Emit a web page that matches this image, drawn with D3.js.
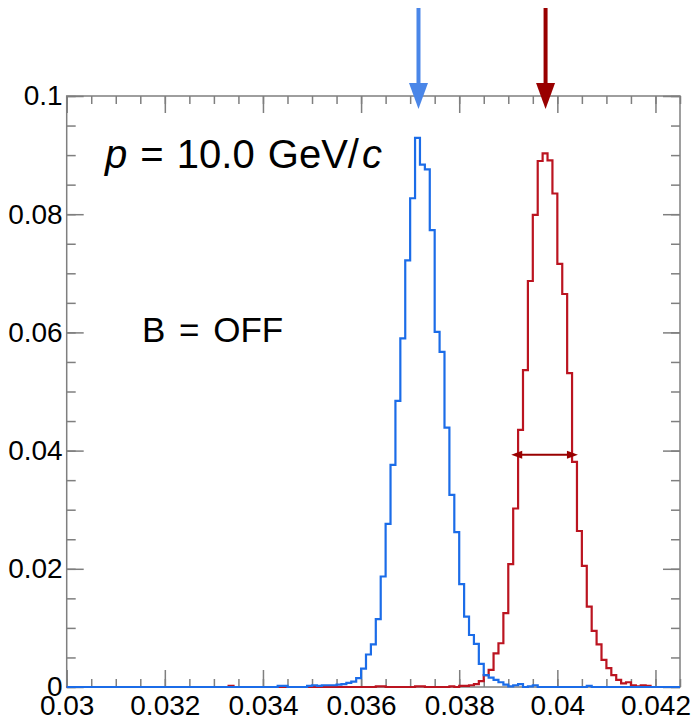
<!DOCTYPE html>
<html>
<head>
<meta charset="utf-8">
<script src="https://cdn.jsdelivr.net/npm/d3@7"></script>
<style>
  body { margin: 0; background: #fff; }
  svg { display: block; font-family: "Liberation Sans", Arial, sans-serif; }
</style>
</head>
<body>
<script>
// histogram binning (x axis)
var binLow = 0.03, binWidth = 0.0001, nBins = 125;

// blue histogram: first bin low edge and bin contents
var blueStart = 0.0343;
var blueCounts = [
  0.0002, 0.0002, 0, 0, 0, 0, 0.0002, 0.0003, 0.0002, 0.0003,
  0.0003, 0.0003, 0.0004, 0.0005, 0.0007, 0.0009, 0.0015, 0.0031, 0.0055, 0.0072,
  0.0115, 0.0187, 0.0276, 0.0376, 0.0484, 0.0590, 0.0722, 0.0827, 0.0929, 0.0884,
  0.0876, 0.0773, 0.0601, 0.0567, 0.0439, 0.0325, 0.0262, 0.0174, 0.0119, 0.0088,
  0.0073, 0.0039, 0.0020, 0.0016, 0.0012, 0.0008, 0.0004, 0.0001, 0.0003, 0.0005,
  0, 0.0001, 0.0003, 0, 0, 0, 0, 0, 0, 0,
  0, 0, 0, 0.0002
];

// red histogram
var redStart = 0.0380;
var redCounts = [
  0.0002, 0.0002, 0.0003, 0.0005, 0.0010, 0.0020, 0.0029, 0.0057, 0.0074, 0.0125,
  0.0208, 0.0302, 0.0435, 0.0536, 0.0687, 0.0799, 0.0890, 0.0903, 0.0891, 0.0835,
  0.0716, 0.0665, 0.0531, 0.0381, 0.0264, 0.0205, 0.0136, 0.0095, 0.0072, 0.0046,
  0.0032, 0.0020, 0.0012, 0.0006, 0.0008, 0.0003, 0.0001, 0.0003, 0.0002
];
// a few isolated red entries far left
var redStray = [[0.0333, 0.0002], [0.0363, 0.0001], [0.0364, 0.0001], [0.0371, 0.0001], [0.0372, 0.0001], [0.0378, 0.0001]];

// mean arrows and FWHM marker
var blueMean = 0.03717, redMean = 0.03976;
var fwhm = [0.03906, 0.04042], fwhmLevel = 0.0393;

// axes
var xTicks = [0.03, 0.032, 0.034, 0.036, 0.038, 0.04, 0.042];
var xTickLabels = ["0.03", "0.032", "0.034", "0.036", "0.038", "0.04", "0.042"];
var yTicks = [0, 0.02, 0.04, 0.06, 0.08, 0.1];
var yTickLabels = ["0", "0.02", "0.04", "0.06", "0.08", "0.1"];

var width = 693, height = 718;
var plotLeft = 66.7, plotRight = 680, plotTop = 96, plotBottom = 687;

var x = d3.scaleLinear().domain([0.03, 0.0425]).range([plotLeft, plotRight]);
var y = d3.scaleLinear().domain([0, 0.1]).range([plotBottom, plotTop]);

var svg = d3.select("body").append("svg")
    .attr("width", width)
    .attr("height", height);

var gray = "#7f7f7f";

// minor tick positions
var xMinor = d3.range(0, 26).map(function(i) { return 0.03 + i * 0.0005; }).filter(function(v) { return v < 0.0425; });
var yMinor = d3.range(0, 21).map(function(i) { return i * 0.005; });

function styleAxis(g) {
    g.select(".domain").remove();
    g.attr("font-size", null).attr("font-family", null);
    g.selectAll("line").attr("stroke", gray).attr("stroke-width", 1.5);
    g.selectAll("text").attr("fill", "#000")
        .style("font-size", "28px")
        .style("font-family", "'Liberation Sans', Arial, sans-serif");
}

// bottom
svg.append("g").attr("transform", "translate(0," + plotBottom + ")")
    .call(d3.axisBottom(x).tickValues(xMinor).tickSize(-8).tickFormat(""))
    .call(styleAxis);
svg.append("g").attr("transform", "translate(0," + plotBottom + ")")
    .call(d3.axisBottom(x).tickValues(xTicks).tickSize(-17).tickPadding(8)
        .tickFormat(function(d, i) { return xTickLabels[i]; }))
    .call(styleAxis);
// top
svg.append("g").attr("transform", "translate(0," + plotTop + ")")
    .call(d3.axisTop(x).tickValues(xMinor).tickSize(-8).tickFormat(""))
    .call(styleAxis);
svg.append("g").attr("transform", "translate(0," + plotTop + ")")
    .call(d3.axisTop(x).tickValues(xTicks).tickSize(-17).tickFormat(""))
    .call(styleAxis);
// left
svg.append("g").attr("transform", "translate(" + plotLeft + ",0)")
    .call(d3.axisLeft(y).tickValues(yMinor).tickSize(-9).tickFormat(""))
    .call(styleAxis);
svg.append("g").attr("transform", "translate(" + plotLeft + ",0)")
    .call(d3.axisLeft(y).tickValues(yTicks).tickSize(-17).tickPadding(4)
        .tickFormat(function(d, i) { return yTickLabels[i]; }))
    .call(styleAxis);
// right
svg.append("g").attr("transform", "translate(" + plotRight + ",0)")
    .call(d3.axisRight(y).tickValues(yMinor).tickSize(-9).tickFormat(""))
    .call(styleAxis);
svg.append("g").attr("transform", "translate(" + plotRight + ",0)")
    .call(d3.axisRight(y).tickValues(yTicks).tickSize(-17).tickFormat(""))
    .call(styleAxis);

// frame
svg.append("rect")
    .attr("x", plotLeft).attr("y", plotTop)
    .attr("width", plotRight - plotLeft).attr("height", plotBottom - plotTop)
    .attr("fill", "none").attr("stroke", gray).attr("stroke-width", 1.5);

// fill a full-length bin array
function fullBins(start, counts, stray) {
    var vals = new Array(nBins).fill(0);
    var i0 = Math.round((start - binLow) / binWidth);
    counts.forEach(function(c, i) { if (i0 + i < nBins) vals[i0 + i] = c; });
    (stray || []).forEach(function(s) { vals[Math.round((s[0] - binLow) / binWidth)] = s[1]; });
    var pts = vals.map(function(v, i) { return [binLow + i * binWidth, v]; });
    pts.push([x.domain()[1], vals[nBins - 1]]);
    return pts;
}

var step = d3.line()
    .x(function(d) { return x(d[0]); })
    .y(function(d) { return y(d[1]); })
    .curve(d3.curveStepAfter);

svg.append("path")
    .attr("d", step(fullBins(redStart, redCounts, redStray)))
    .attr("fill", "none").attr("stroke", "#bb1420").attr("stroke-width", 2.2);

svg.append("path")
    .attr("d", step(fullBins(blueStart, blueCounts)))
    .attr("fill", "none").attr("stroke", "#1b6ce8").attr("stroke-width", 2.2);

// mean arrows above the frame
function downArrow(xv, color) {
    var cx = x(xv);
    svg.append("rect").attr("x", cx - 2).attr("y", 8).attr("width", 4).attr("height", 77).attr("fill", color);
    svg.append("path")
        .attr("d", "M" + (cx - 9.5) + ",83L" + (cx + 9.5) + ",83L" + cx + ",109Z")
        .attr("fill", color);
}
downArrow(blueMean, "#4a86e8");
downArrow(redMean, "#990000");

// FWHM double arrow
var fy = y(fwhmLevel), fx0 = x(fwhm[0]), fx1 = x(fwhm[1]);
svg.append("line")
    .attr("x1", fx0 + 4).attr("x2", fx1 - 4).attr("y1", fy).attr("y2", fy)
    .attr("stroke", "#990000").attr("stroke-width", 2);
svg.append("path")
    .attr("d", "M" + fx0 + "," + fy + "L" + (fx0 + 11) + "," + (fy - 4) + "L" + (fx0 + 11) + "," + (fy + 4) + "Z" +
               "M" + fx1 + "," + fy + "L" + (fx1 - 11) + "," + (fy - 4) + "L" + (fx1 - 11) + "," + (fy + 4) + "Z")
    .attr("fill", "#990000");

// labels
var t1 = svg.append("text")
    .attr("x", 105).attr("y", 168)
    .attr("font-size", "40px").attr("word-spacing", "2px").attr("fill", "#000");
t1.append("tspan").attr("font-style", "italic").text("p");
t1.append("tspan").text(" = 10.0 GeV/");
t1.append("tspan").attr("font-style", "italic").attr("dx", 3).text("c");

svg.append("text")
    .attr("x", 142).attr("y", 342)
    .attr("font-size", "35px").attr("word-spacing", "4px").attr("fill", "#000")
    .text("B = OFF");
</script>
</body>
</html>
